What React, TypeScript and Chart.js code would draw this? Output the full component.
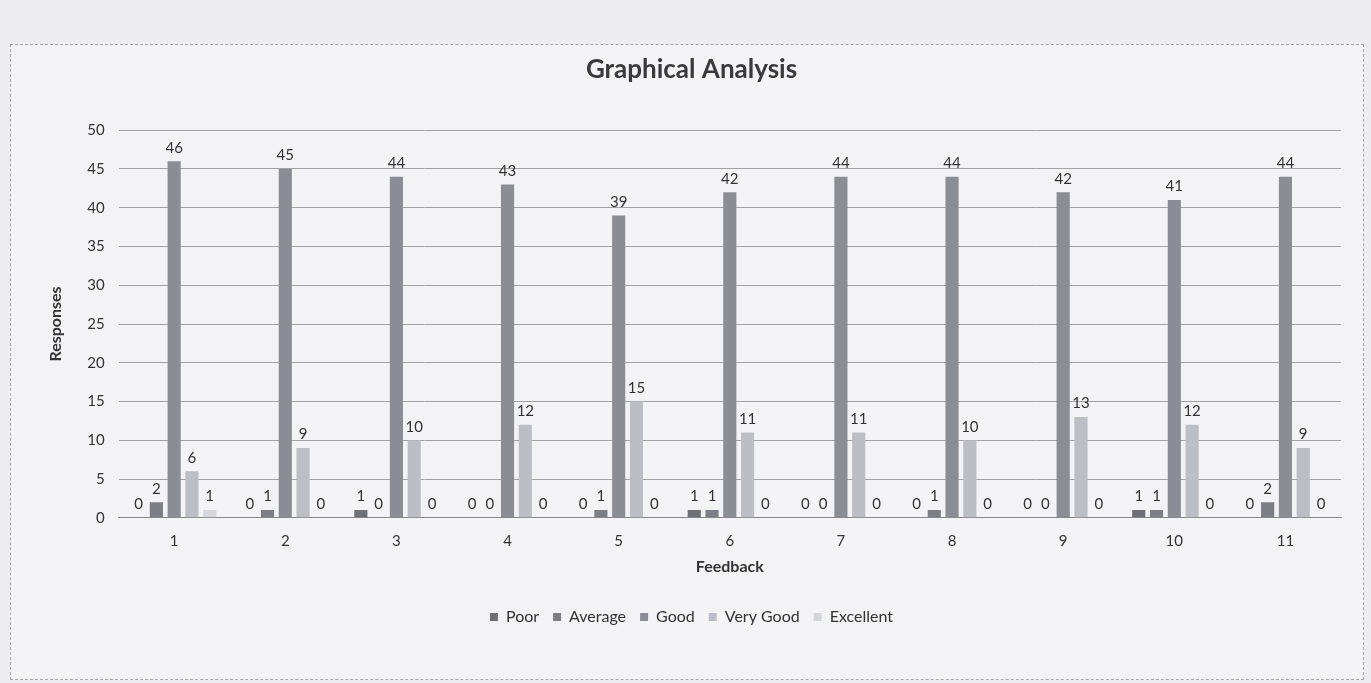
import React, { useEffect, useRef } from "react";
import { Chart, registerables } from "chart.js";

Chart.register(...registerables);

const categories = ["1", "2", "3", "4", "5", "6", "7", "8", "9", "10", "11"];
const poor = [0, 0, 1, 0, 0, 1, 0, 0, 0, 1, 0];
const average = [2, 1, 0, 0, 1, 1, 0, 1, 0, 1, 2];
const good = [46, 45, 44, 43, 39, 42, 44, 44, 42, 41, 44];
const veryGood = [6, 9, 10, 12, 15, 11, 11, 10, 13, 12, 9];
const excellent = [1, 0, 0, 0, 0, 0, 0, 0, 0, 0, 0];
const seriesNames = ["Poor", "Average", "Good", "Very Good", "Excellent"];
const seriesColors = ["#6e7077", "#7c7e85", "#8b8d94", "#bcbec5", "#d5d6dc"];

const FONT = "Lato, 'Open Sans', sans-serif";

const valueLabels = {
  id: "valueLabels",
  afterDatasetsDraw(chart: any) {
    const ctx = chart.ctx;
    ctx.save();
    ctx.font = `15px ${FONT}`;
    ctx.fillStyle = "#333";
    ctx.textAlign = "center";
    ctx.textBaseline = "bottom";
    chart.data.datasets.forEach((ds: any, i: number) => {
      const meta = chart.getDatasetMeta(i);
      meta.data.forEach((bar: any, j: number) => {
        ctx.fillText(String(ds.data[j]), bar.x, bar.y - 6);
      });
    });
    ctx.restore();
  },
};

export default function App() {
  const ref = useRef<HTMLCanvasElement>(null);
  useEffect(() => {
    document.body.style.margin = "0";
    document.body.style.background = "#ededf1";
    const values = [poor, average, good, veryGood, excellent];
    const chart = new Chart(ref.current!, {
      type: "bar",
      data: {
        labels: categories,
        datasets: values.map((v, i) => ({
          label: seriesNames[i],
          data: v,
          backgroundColor: seriesColors[i],
          borderWidth: 0,
          categoryPercentage: 0.8,
          barPercentage: 0.74,
        })),
      },
      options: {
        animation: false,
        responsive: false,
        layout: { padding: { left: 42, right: 30, top: 48, bottom: 48 } },
        plugins: {
          title: {
            display: true,
            text: "Graphical Analysis",
            color: "#3a3a3a",
            font: { family: FONT, size: 26, weight: "bold" },
            padding: { top: 6, bottom: 45 },
          },
          legend: {
            position: "bottom",
            labels: {
              boxWidth: 8,
              boxHeight: 8,
              color: "#333",
              font: { family: FONT, size: 16 },
              padding: 14,
            },
          },
          tooltip: { enabled: false },
        },
        scales: {
          x: {
            grid: { display: false },
            border: { color: "#888" },
            ticks: { color: "#333", font: { family: FONT, size: 15 }, padding: 6 },
            title: {
              display: true,
              text: "Feedback",
              color: "#333",
              font: { family: FONT, size: 16, weight: "bold" },
              padding: { top: 1, bottom: 19 },
            },
          },
          y: {
            min: 0,
            max: 50,
            ticks: { stepSize: 5, color: "#333", font: { family: FONT, size: 15 }, padding: 14 },
            grid: { color: "#a2a2a6", drawTicks: false },
            border: { display: false },
            title: {
              display: true,
              text: "Responses",
              color: "#333",
              font: { family: FONT, size: 16, weight: "bold" },
              padding: { bottom: 8 },
            },
          },
        },
      },
      plugins: [valueLabels],
    });
    return () => chart.destroy();
  }, []);
  return (
    <div style={{ position: "relative", width: 1371, height: 683 }}>
      <div
        style={{
          position: "absolute",
          left: 10,
          top: 44,
          width: 1352,
          height: 634,
          border: "1px dashed #a8a8ac",
          background: "#f3f3f6",
        }}
      />
      <canvas ref={ref} width={1371} height={683} style={{ position: "absolute", left: 0, top: 0 }} />
    </div>
  );
}
